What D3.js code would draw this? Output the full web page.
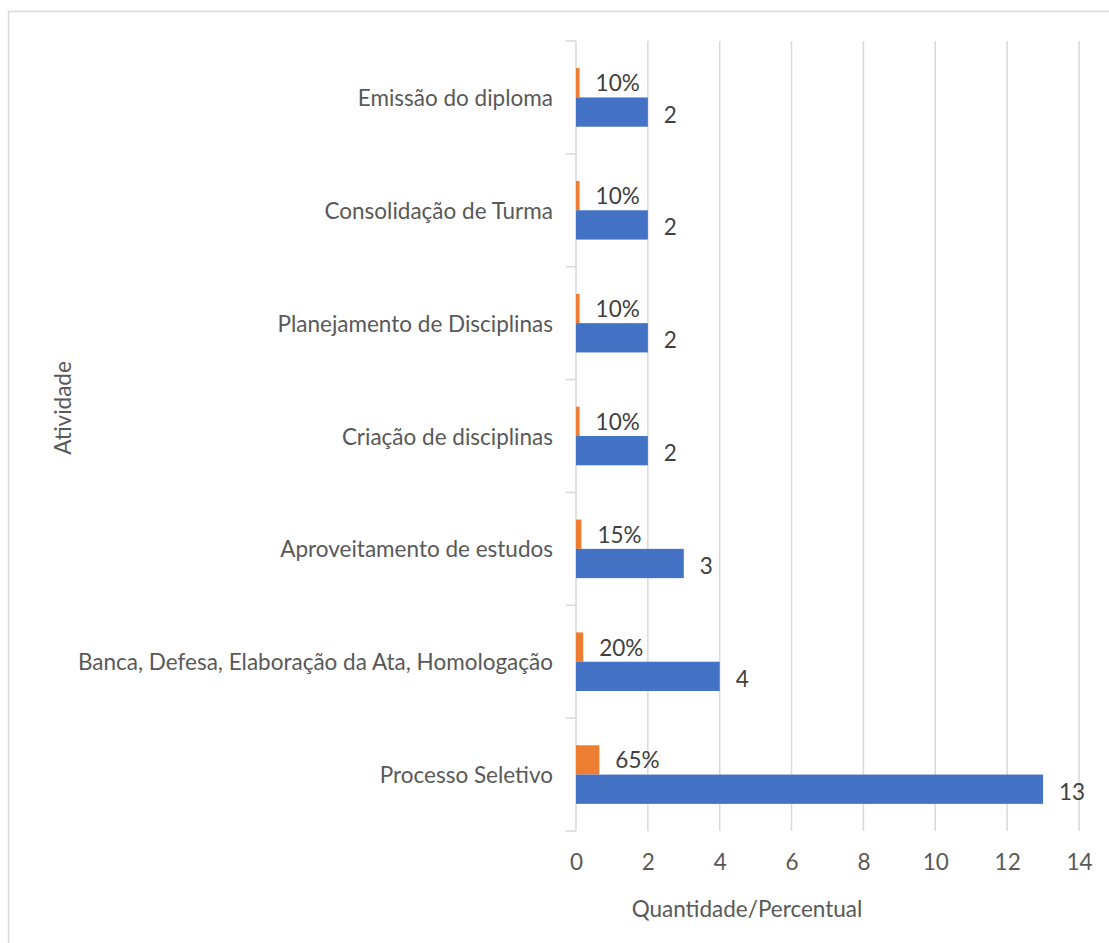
<!DOCTYPE html>
<html>
<head>
<meta charset="utf-8">
<script src="https://cdn.jsdelivr.net/npm/d3@7"></script>
<style>
html,body{margin:0;padding:0;background:#fff;}
svg{display:block;}
text{font-family:Lato,"Open Sans",sans-serif;fill:#595959;}
</style>
</head>
<body>
<svg id="chart" width="1109" height="943"></svg>
<script>
// Data (bottom to top as in the picture)
const categories = [
  "Processo Seletivo",
  "Banca, Defesa, Elaboração da Ata, Homologação",
  "Aproveitamento de estudos",
  "Criação de disciplinas",
  "Planejamento de Disciplinas",
  "Consolidação de Turma",
  "Emissão do diploma"
];
const quantidade = [13, 4, 3, 2, 2, 2, 2];
const percentual = [0.65, 0.20, 0.15, 0.10, 0.10, 0.10, 0.10];
const xTicks = [0, 2, 4, 6, 8, 10, 12, 14];
const xTitle = "Quantidade/Percentual";
const yTitle = "Atividade";

const rows = categories.map((c, i) => ({cat: c, qty: quantidade[i], pct: percentual[i]}));

const svg = d3.select("#chart");
const W = 1109, H = 943;
const plot = {left: 576, right: 1079, top: 41, bottom: 831};
const FS = 22.5;

// outer chart border
svg.append("rect").attr("x", 8.5).attr("y", 11.5).attr("width", W + 10).attr("height", H + 10)
  .attr("fill", "none").attr("stroke", "#d9d9d9").attr("stroke-width", 1.5);

const x = d3.scaleLinear().domain([0, 14]).range([plot.left, plot.right]);
const y = d3.scaleBand().domain(categories.slice().reverse()).range([plot.top, plot.bottom]).paddingInner(0).paddingOuter(0);
const inner = d3.scaleBand().domain(["pct", "qty"]).range([0, y.bandwidth()]).paddingInner(0).paddingOuter(0.926);

// gridlines
svg.append("g").selectAll("line").data(xTicks.filter(t => t > 0)).join("line")
  .attr("x1", d => x(d)).attr("x2", d => x(d))
  .attr("y1", plot.top).attr("y2", plot.bottom)
  .attr("stroke", "#d9d9d9").attr("stroke-width", 1.5);

// x tick labels via axis
const xAxis = svg.append("g").attr("transform", `translate(0,${plot.bottom})`)
  .call(d3.axisBottom(x).tickValues(xTicks).tickSize(0).tickPadding(0).tickFormat(d3.format("d")));
xAxis.select(".domain").remove();
xAxis.selectAll("text").attr("y", 39).attr("dy", null).attr("font-size", FS)
  .style("font-family", "Lato,'Open Sans',sans-serif").attr("fill", "#595959");

// y axis (category) with band boundary ticks
const yAxisG = svg.append("g").attr("transform", `translate(${plot.left},0)`);
yAxisG.append("line").attr("x1", 0).attr("x2", 0).attr("y1", plot.top).attr("y2", plot.bottom)
  .attr("stroke", "#d9d9d9").attr("stroke-width", 1.5);
const boundaries = categories.slice().reverse().map(c => y(c)).concat([plot.bottom]);
yAxisG.selectAll("line.bt").data(boundaries).join("line").attr("class", "bt")
  .attr("x1", -10).attr("x2", 0).attr("y1", d => d).attr("y2", d => d)
  .attr("stroke", "#d9d9d9").attr("stroke-width", 1.5);
yAxisG.selectAll("text.cat").data(categories).join("text").attr("class", "cat")
  .attr("x", -23).attr("y", d => y(d) + y.bandwidth() / 2)
  .attr("text-anchor", "end").attr("dominant-baseline", "central").attr("font-size", FS)
  .text(d => d);

// bars
const g = svg.append("g");
g.selectAll("rect.pct").data(rows).join("rect").attr("class", "pct")
  .attr("x", x(0)).attr("y", d => y(d.cat) + inner("pct"))
  .attr("width", d => x(d.pct) - x(0)).attr("height", inner.bandwidth())
  .attr("fill", "#ED7D31");
g.selectAll("rect.qty").data(rows).join("rect").attr("class", "qty")
  .attr("x", x(0)).attr("y", d => y(d.cat) + inner("qty"))
  .attr("width", d => x(d.qty) - x(0)).attr("height", inner.bandwidth())
  .attr("fill", "#4472C4");

// value labels
const fmtPct = d3.format(".0%");
g.selectAll("text.pl").data(rows).join("text").attr("class", "pl")
  .attr("x", d => x(d.pct) + 16).attr("y", d => y(d.cat) + inner("pct") + inner.bandwidth() / 2)
  .attr("dominant-baseline", "central").attr("font-size", FS)
  .style("fill", "#404040").text(d => fmtPct(d.pct));
g.selectAll("text.ql").data(rows).join("text").attr("class", "ql")
  .attr("x", d => x(d.qty) + 16).attr("y", d => y(d.cat) + inner("qty") + inner.bandwidth() / 2 + 2)
  .attr("dominant-baseline", "central").attr("font-size", FS)
  .style("fill", "#404040").text(d => d.qty);

// axis titles
svg.append("text").attr("x", 747).attr("y", 917).attr("text-anchor", "middle")
  .attr("font-size", FS).text(xTitle);
svg.append("text").attr("transform", "translate(71,408) rotate(-90)").attr("text-anchor", "middle")
  .attr("font-size", FS).text(yTitle);
</script>
</body>
</html>
